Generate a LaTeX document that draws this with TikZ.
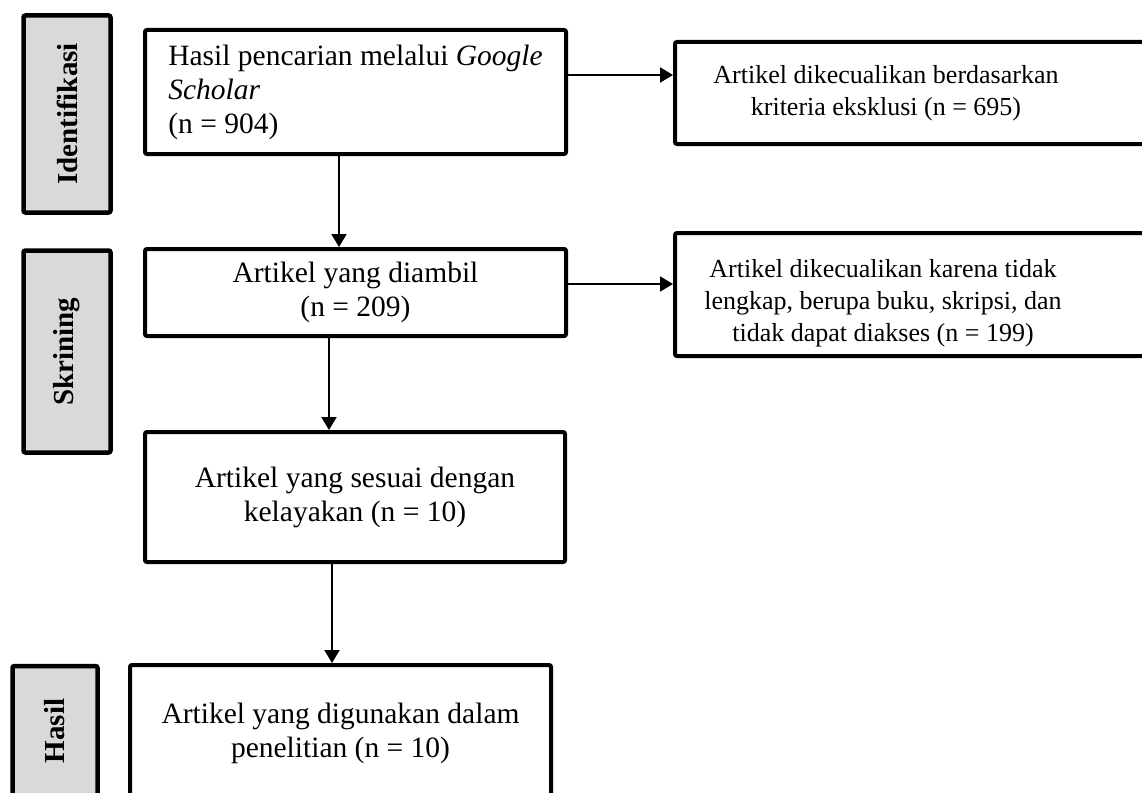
\documentclass[tikz,border=0pt]{standalone}
\usepackage{fontspec}
\setmainfont{Liberation Serif}
\usetikzlibrary{arrows.meta}

\begin{document}
\begin{tikzpicture}[x=1pt, y=-1pt,
  box/.style={draw, line width=4pt, rounded corners=2pt, inner sep=0pt,
    font=\fontsize{29.5}{34}\selectfont},
  side/.style={draw, line width=4.5pt, rounded corners=2pt, fill=gray!30,
    rotate=90, minimum height=87pt, inner sep=0pt,
    font=\fontsize{29}{34}\selectfont\bfseries},
  txt/.style={align=center, inner sep=0pt, font=\fontsize{26}{32}\selectfont},
  >={Triangle[length=13pt, width=15pt]}]
  \useasboundingbox (0,0) rectangle (1142,792);

  \node[side, minimum width=197pt] (idf) at (67,114) {Identifikasi};
  \node[side, minimum width=202pt] (skr) at (67,351.5) {Skrining};
  \node[side, minimum width=130pt, minimum height=85pt] (hsl) at (55,731) {Hasil};

  \node[box, minimum width=421pt, minimum height=124pt, align=left]
    (cari) at (355.5,92) {Hasil pencarian melalui \textit{Google}\\ \textit{Scholar}\\ (n = 904)};
  \node[box, minimum width=421pt, minimum height=87pt, align=center]
    (ambil) at (355.5,292.5) {Artikel yang diambil\\ (n = 209)};
  \node[box, minimum width=420pt, minimum height=130pt, align=center]
    (sesuai) at (355,497) {Artikel yang sesuai dengan\\ kelayakan (n = 10)};
  \node[box, minimum width=421pt, minimum height=136pt, align=center]
    (guna) at (340.5,733) {Artikel yang digunakan dalam\\ penelitian (n = 10)};

  \node[box, minimum width=485pt, minimum height=102pt] (ekskl) at (917.5,93) {};
  \node[txt] (eksklT) at (886,93) {Artikel dikecualikan berdasarkan\\ kriteria eksklusi (n = 695)};
  \node[box, minimum width=485pt, minimum height=123pt] (tolak) at (917.5,294.5) {};
  \node[txt] (tolakT) at (883,303) {Artikel dikecualikan karena tidak\\ lengkap, berupa buku, skripsi, dan\\ tidak dapat diakses (n = 199)};

  \draw[line width=2pt, ->] ([xshift=-16.5pt]cari.south) -- ([xshift=-16.5pt]ambil.north);
  \draw[line width=2pt, ->] ([xshift=-26.5pt]ambil.south) -- ([xshift=-26pt]sesuai.north);
  \draw[line width=2pt, ->] ([xshift=-23pt]sesuai.south) -- ([xshift=-8.5pt]guna.north);

  \draw[line width=2pt, ->] ([yshift=17pt]cari.east) -- ([yshift=18pt]ekskl.west);
  \draw[line width=2pt, ->] ([yshift=8.5pt]ambil.east) -- ([yshift=10.5pt]tolak.west);
\end{tikzpicture}
\end{document}
